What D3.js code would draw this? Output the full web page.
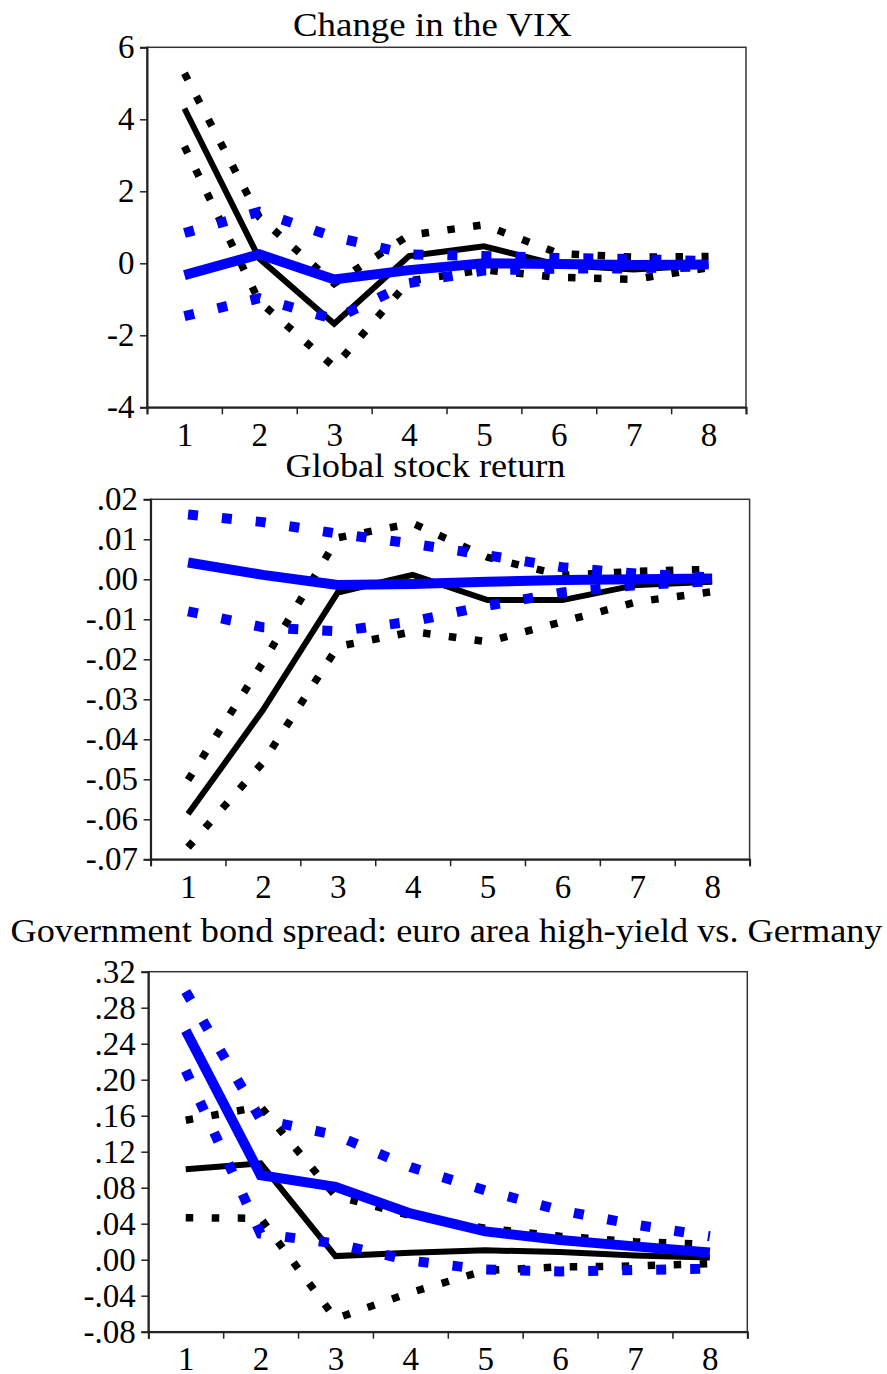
<!DOCTYPE html>
<html>
<head>
<meta charset="utf-8">
<script src="https://cdn.jsdelivr.net/npm/d3@7"></script>
<style>
body { margin: 0; background: #fff; }
svg text { font-family: "Liberation Serif", "DejaVu Serif", serif; fill: #000; }
</style>
</head>
<body>
<svg id="chart" width="887" height="1374"></svg>
<script>
// horizons on the x axis
var horizons = [1, 2, 3, 4, 5, 6, 7, 8];

// Change in the VIX
var vixMean   = [4.30, 0.13, -1.68, 0.20, 0.47, -0.05, -0.17, -0.05];
var vixUpper  = [5.28, 1.28, -0.56, 0.78, 1.07, 0.27, 0.17, 0.19];
var vixLower  = [3.25, -1.06, -2.88, -0.49, -0.18, -0.39, -0.45, -0.12];
var vixMeanB  = [-0.33, 0.25, -0.45, -0.19, 0.00, -0.02, -0.05, -0.03];
var vixUpperB = [0.84, 1.43, 0.73, 0.25, 0.20, 0.15, 0.12, 0.06];
var vixLowerB = [-1.47, -0.97, -1.55, -0.55, -0.20, -0.15, -0.14, -0.08];
var vixTicks = [-4, -2, 0, 2, 4, 6];
var vixTickLabels = ["-4", "-2", "0", "2", "4", "6"];

// Global stock return
var stkMean   = [-0.0587, -0.0327, -0.0033, 0.0011, -0.0052, -0.0052, -0.0014, -0.0006];
var stkUpper  = [-0.0502, -0.0208, 0.0104, 0.0140, 0.0055, 0.0010, 0.0020, 0.0025];
var stkLower  = [-0.0670, -0.0458, -0.0168, -0.0131, -0.0156, -0.0106, -0.0056, -0.0031];
var stkMeanB  = [0.0042, 0.0011, -0.0014, -0.0012, -0.0006, -0.0002, 0.0000, 0.0002];
var stkUpperB = [0.0162, 0.0143, 0.0114, 0.0089, 0.0060, 0.0030, 0.0014, 0.0005];
var stkLowerB = [-0.0080, -0.0120, -0.0130, -0.0105, -0.0066, -0.0033, -0.0014, -0.0005];
var stkTicks = [-0.07, -0.06, -0.05, -0.04, -0.03, -0.02, -0.01, 0, 0.01, 0.02];
var stkTickLabels = ["-.07", "-.06", "-.05", "-.04", "-.03", "-.02", "-.01", ".00", ".01", ".02"];

// Government bond spread
var bndMean   = [0.1004, 0.1070, 0.0040, 0.0078, 0.0104, 0.0085, 0.0048, 0.0025];
var bndUpper  = [0.155, 0.170, 0.071, 0.049, 0.035, 0.026, 0.020, 0.017];
var bndLower  = [0.0467, 0.0460, -0.0655, -0.0366, -0.0120, -0.0080, -0.0070, -0.0044];
var bndMeanB  = [0.2545, 0.0940, 0.0810, 0.0515, 0.0315, 0.0220, 0.0148, 0.0080];
var bndUpperB = [0.298, 0.156, 0.1386, 0.103, 0.077, 0.055, 0.039, 0.026];
var bndLowerB = [0.210, 0.029, 0.018, -0.001, -0.011, -0.013, -0.0115, -0.010];
var bndTicks = [-0.08, -0.04, 0, 0.04, 0.08, 0.12, 0.16, 0.20, 0.24, 0.28, 0.32];
var bndTickLabels = ["-.08", "-.04", ".00", ".04", ".08", ".12", ".16", ".20", ".24", ".28", ".32"];

var svg = d3.select("#chart");

// pick a label size so that two digits are about 33px wide, whatever serif got loaded
var probe = svg.append("text").attr("font-size", 100).text("00");
var labelSize = Math.min(33, 33 * 100 / probe.node().getComputedTextLength());
probe.remove();
var titleSize = labelSize + 1;

function drawPanel(p) {
    var w = 599, h = 360;
    var g = svg.append("g").attr("transform", "translate(" + p.left + "," + p.top + ")");

    var xEdge = d3.scaleLinear().domain([0.5, 8.5]).range([0, w]);
    var y = d3.scaleLinear().domain(p.domain).range([h, 0]);

    // title
    svg.append("text")
        .attr("x", p.titleX)
        .attr("y", p.titleY)
        .attr("text-anchor", "middle")
        .attr("font-size", titleSize)
        .attr("textLength", p.titleW)
        .attr("lengthAdjust", "spacingAndGlyphs")
        .text(p.title);

    // frame
    g.append("rect")
        .attr("width", w).attr("height", h)
        .attr("fill", "none").attr("stroke", "#333").attr("stroke-width", 1.5);

    var line = d3.line()
        .x(function(d, i) { return xEdge(horizons[i]); })
        .y(function(d) { return y(d); });

    var series = [
        {v: p.upper, color: "#000", width: 7.5, dash: "7.5,18.5"},
        {v: p.lower, color: "#000", width: 7.5, dash: "7.5,18.5"},
        {v: p.mean, color: "#000", width: 6, dash: null},
        {v: p.upperB, color: "#0000ff", width: 10, dash: "10,24"},
        {v: p.lowerB, color: "#0000ff", width: 10, dash: "10,24"},
        {v: p.meanB, color: "#0000ff", width: 10, dash: null}
    ];
    series.forEach(function(s) {
        g.append("path")
            .attr("d", line(s.v))
            .attr("fill", "none")
            .attr("stroke", s.color)
            .attr("stroke-width", s.width)
            .attr("stroke-linejoin", "miter")
            .attr("stroke-dasharray", s.dash);
    });

    // y axis
    var yAxis = g.append("g")
        .call(d3.axisLeft(y).tickValues(p.ticks)
            .tickFormat(function(d, i) { return p.labels[i]; })
            .tickSize(7).tickPadding(5.5));
    yAxis.attr("font-family", null);
    yAxis.select(".domain").attr("stroke", "#222").attr("stroke-width", 2);
    yAxis.selectAll(".tick line").attr("stroke", "#222").attr("stroke-width", 1.5);
    yAxis.selectAll("text").attr("font-size", labelSize);

    // x axis ticks at band edges
    var xTicks = g.append("g").attr("transform", "translate(0," + h + ")")
        .call(d3.axisBottom(xEdge).tickValues(d3.range(0.5, 9, 1)).tickFormat("").tickSize(7));
    xTicks.select(".domain").attr("stroke", "#222").attr("stroke-width", 2);
    xTicks.selectAll(".tick line").attr("stroke", "#222").attr("stroke-width", 1.5);

    // x labels at horizon centres
    var xLabels = g.append("g").attr("transform", "translate(0," + h + ")")
        .call(d3.axisBottom(xEdge).tickValues(horizons).tickSize(0).tickPadding(15));
    xLabels.attr("font-family", null);
    xLabels.select(".domain").remove();
    xLabels.selectAll("text").attr("font-size", labelSize);
}

drawPanel({title: "Change in the VIX", titleX: 432.5, titleY: 36, titleW: 279,
    left: 147, top: 47.3, domain: [-4, 6], ticks: vixTicks, labels: vixTickLabels,
    mean: vixMean, upper: vixUpper, lower: vixLower, meanB: vixMeanB, upperB: vixUpperB, lowerB: vixLowerB});

drawPanel({title: "Global stock return", titleX: 425.5, titleY: 476.7, titleW: 280,
    left: 150.6, top: 499.3, domain: [-0.07, 0.02], ticks: stkTicks, labels: stkTickLabels,
    mean: stkMean, upper: stkUpper, lower: stkLower, meanB: stkMeanB, upperB: stkUpperB, lowerB: stkLowerB});

drawPanel({title: "Government bond spread: euro area high-yield vs. Germany", titleX: 446.5, titleY: 941.7, titleW: 872,
    left: 148.3, top: 971.7, domain: [-0.08, 0.32], ticks: bndTicks, labels: bndTickLabels,
    mean: bndMean, upper: bndUpper, lower: bndLower, meanB: bndMeanB, upperB: bndUpperB, lowerB: bndLowerB});
</script>
</body>
</html>
